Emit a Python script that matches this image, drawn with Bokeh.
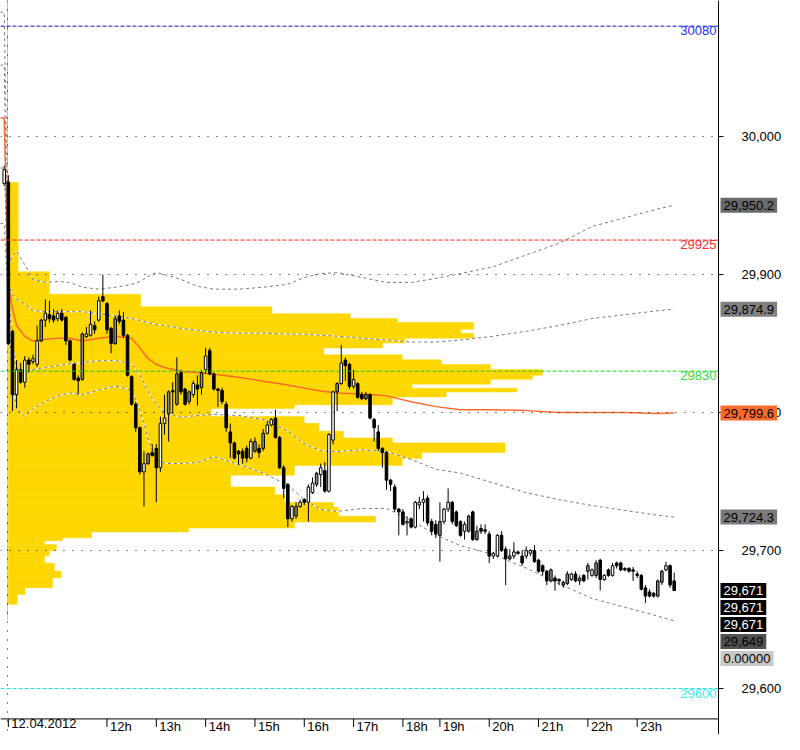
from bokeh.plotting import figure
from bokeh.models import Range1d, Span, Label, ColumnDataSource
from bokeh.core.properties import value
from bokeh.embed import file_html
from bokeh.resources import INLINE

# ---------------- data (5-minute bars, bar index 0 = session start 12.04.2012) ----------------
FIRST_BAR = -1
OPEN = [29966, 29967, 29859, 29813, 29831, 29822, 29838, 29837, 29835, 29852,
        29867, 29871, 29870, 29868, 29872, 29869, 29852, 29835, 29825, 29824,
        29855, 29856, 29863, 29867, 29884, 29879, 29861, 29850, 29870, 29867,
        29856, 29826, 29806, 29789, 29757, 29763, 29771, 29774, 29760, 29792,
        29799, 29816, 29806, 29829, 29817, 29808, 29813, 29820, 29818, 29831,
        29845, 29828, 29817, 29816, 29806, 29786, 29778, 29772, 29772, 29774,
        29767, 29772, 29774, 29774, 29785, 29791, 29796, 29782, 29760, 29748,
        29723, 29725, 29732, 29737, 29735, 29742, 29748, 29755, 29758, 29743,
        29780, 29815, 29821, 29838, 29835, 29819, 29821, 29813, 29810, 29813,
        29795, 29786, 29774, 29771, 29751, 29746, 29730, 29728, 29720, 29723,
        29717, 29733, 29735, 29738, 29721, 29719, 29711, 29721, 29730, 29735,
        29728, 29721, 29714, 29714, 29728, 29708, 29716, 29715, 29712, 29696,
        29696, 29711, 29701, 29694, 29696, 29699, 29696, 29696, 29698, 29700,
        29693, 29689, 29685, 29678, 29680, 29679, 29675, 29676, 29679, 29683,
        29678, 29682, 29685, 29682, 29682, 29693, 29679, 29686, 29682, 29691,
        29691, 29687, 29687, 29686, 29683, 29682, 29673, 29670, 29669, 29667,
        29677, 29686, 29689, 29678]
HIGH = [29979, 29972, 29860, 29838, 29836, 29841, 29840, 29842, 29863, 29868,
        29882, 29881, 29875, 29874, 29875, 29870, 29853, 29836, 29827, 29858,
        29862, 29874, 29866, 29884, 29900, 29880, 29862, 29870, 29874, 29873,
        29857, 29827, 29808, 29790, 29772, 29771, 29777, 29777, 29797, 29813,
        29816, 29822, 29840, 29831, 29818, 29816, 29823, 29827, 29831, 29847,
        29847, 29829, 29818, 29818, 29808, 29792, 29779, 29773, 29774, 29776,
        29781, 29782, 29777, 29788, 29794, 29796, 29802, 29783, 29762, 29749,
        29733, 29735, 29737, 29738, 29748, 29753, 29757, 29763, 29764, 29785,
        29816, 29822, 29849, 29840, 29836, 29831, 29822, 29815, 29815, 29814,
        29796, 29791, 29775, 29772, 29752, 29748, 29731, 29730, 29725, 29724,
        29736, 29739, 29743, 29740, 29723, 29722, 29735, 29731, 29745, 29736,
        29729, 29722, 29721, 29726, 29729, 29718, 29719, 29719, 29714, 29699,
        29712, 29714, 29703, 29701, 29706, 29700, 29700, 29703, 29701, 29704,
        29694, 29690, 29686, 29687, 29682, 29680, 29678, 29685, 29684, 29685,
        29682, 29683, 29691, 29687, 29693, 29694, 29683, 29687, 29691, 29692,
        29692, 29688, 29688, 29688, 29685, 29683, 29675, 29672, 29670, 29679,
        29686, 29692, 29690, 29684]
LOW = [29964, 29849, 29801, 29803, 29821, 29818, 29829, 29835, 29833, 29851,
       29862, 29865, 29865, 29866, 29866, 29849, 29837, 29823, 29813, 29823,
       29854, 29855, 29857, 29866, 29880, 29857, 29843, 29849, 29864, 29854,
       29826, 29805, 29786, 29755, 29732, 29762, 29768, 29735, 29757, 29784,
       29779, 29799, 29805, 29813, 29805, 29806, 29811, 29805, 29813, 29828,
       29827, 29816, 29804, 29806, 29786, 29767, 29766, 29762, 29763, 29764,
       29766, 29771, 29767, 29772, 29784, 29790, 29781, 29759, 29738, 29717,
       29721, 29723, 29731, 29733, 29721, 29741, 29746, 29746, 29742, 29742,
       29777, 29801, 29820, 29823, 29817, 29817, 29810, 29809, 29809, 29795,
       29779, 29772, 29760, 29744, 29743, 29728, 29711, 29718, 29711, 29716,
       29716, 29730, 29721, 29718, 29711, 29709, 29692, 29719, 29728, 29719,
       29717, 29710, 29708, 29713, 29707, 29707, 29712, 29712, 29691, 29694,
       29695, 29699, 29675, 29693, 29694, 29697, 29689, 29694, 29696, 29691,
       29684, 29682, 29675, 29677, 29671, 29675, 29673, 29675, 29678, 29677,
       29675, 29677, 29679, 29681, 29680, 29671, 29678, 29681, 29681, 29687,
       29685, 29685, 29684, 29678, 29680, 29671, 29662, 29666, 29666, 29666,
       29675, 29685, 29673, 29671]
CLOSE = [29976, 29850, 29813, 29831, 29822, 29838, 29835, 29839, 29852, 29867,
         29872, 29868, 29867, 29872, 29867, 29852, 29838, 29824, 29823, 29857,
         29857, 29864, 29860, 29881, 29881, 29860, 29850, 29868, 29866, 29856,
         29827, 29806, 29789, 29757, 29763, 29770, 29769, 29760, 29792, 29796,
         29815, 29815, 29828, 29815, 29806, 29815, 29821, 29817, 29829, 29841,
         29828, 29817, 29816, 29808, 29789, 29778, 29767, 29770, 29767, 29767,
         29779, 29779, 29771, 29785, 29791, 29795, 29782, 29760, 29745, 29723,
         29732, 29732, 29735, 29735, 29746, 29749, 29756, 29760, 29743, 29784,
         29815, 29821, 29836, 29834, 29819, 29824, 29811, 29810, 29813, 29796,
         29789, 29774, 29771, 29751, 29748, 29730, 29728, 29719, 29721, 29717,
         29735, 29735, 29737, 29720, 29714, 29712, 29721, 29730, 29735, 29721,
         29718, 29711, 29719, 29725, 29708, 29714, 29714, 29714, 29696, 29698,
         29711, 29700, 29694, 29696, 29699, 29698, 29691, 29700, 29700, 29692,
         29685, 29685, 29678, 29686, 29678, 29678, 29677, 29683, 29683, 29678,
         29680, 29678, 29689, 29686, 29691, 29679, 29682, 29682, 29689, 29689,
         29686, 29686, 29685, 29685, 29682, 29672, 29667, 29667, 29667, 29678,
         29685, 29689, 29675, 29671]
# candle type: w = up (hollow), b = down, g = up (grey)
KIND = list("wbbwbwbwwg" "wbbwbbbbbg" "wwbwbbbgbb" "bbbbwgbbww" "gbgbbgwbgw"
            "bbbbbbbbbb" "wgbgwwbbbb" "wgwbwwgwbw" "wgwbbwbbgb" "bbbbbbbbwb"
            "wwwbbbgwwb" "bbwgbgbbbw" "wbbgwbbwwb" "bbbgbbggwb" "gbgwgbwbwb"
            "bbbbbbbbbg" "gwbb")

TICK_BARS = [0, 24, 36, 48, 60, 72, 84, 96, 105, 117, 129, 141, 153]
TICK_LABELS = ["12.04.2012", "12h", "13h", "14h", "15h", "16h", "17h", "18h",
               "19h", "20h", "21h", "22h", "23h"]

# VWAP and its deviation bands, read at these bar indexes
BAND_BARS = [-2, -1, 0, 1, 2, 4, 6, 9, 12, 15, 18, 22, 26, 30, 32, 34, 36, 38, 42, 46,
             50, 56, 62, 68, 72, 76, 80, 86, 92, 98, 104, 110, 118, 126, 134, 142, 150,
             158, 162]
VWAP = [30013.5, 30013.5, 29892.9, 29875.2, 29863.1, 29855.3, 29851.8, 29853.2, 29853.9,
        29853.9, 29851.8, 29853.9, 29855.3, 29853.9, 29846.8, 29839.0, 29834.8, 29832.6,
        29829.8, 29829.1, 29827.7, 29825.5, 29822.7, 29819.9, 29817.7, 29815.6, 29814.2,
        29813.5, 29812.1, 29807.8, 29804.3, 29802.1, 29802.1, 29801.4, 29800.0, 29800.0,
        29800.0, 29799.3, 29799.6]
UPPER2 = [30090.1, 30090.1, 29908.5, 29912.8, 29917.0, 29907.1, 29896.5, 29894.3, 29895.0,
          29894.3, 29890.8, 29889.4, 29890.8, 29892.9, 29895.0, 29898.6, 29901.4, 29900.0,
          29896.5, 29891.5, 29889.4, 29889.4, 29890.8, 29892.9, 29897.9, 29900.7, 29901.4,
          29897.9, 29894.3, 29894.3, 29897.2, 29900.7, 29905.7, 29914.2, 29922.7, 29934.8,
          29941.2, 29947.5, 29950.2]
UPPER1 = [30051.8, 30051.8, 29892.9, 29885.8, 29882.3, 29878.7, 29873.8, 29873.1, 29873.1,
          29873.1, 29873.1, 29871.6, 29870.2, 29868.1, 29866.7, 29865.3, 29863.8, 29863.1,
          29861.0, 29859.6, 29858.2, 29857.5, 29857.5, 29856.8, 29856.8, 29856.1, 29855.3,
          29853.9, 29852.5, 29851.1, 29851.1, 29852.5, 29855.3, 29858.9, 29863.1, 29868.1,
          29870.9, 29873.8, 29874.9]
LOWER1 = [29977.2, 29977.2, 29885.8, 29850.4, 29832.6, 29829.1, 29831.2, 29832.6, 29834.1,
          29835.5, 29836.2, 29837.6, 29837.6, 29835.5, 29827.0, 29814.9, 29805.7, 29800.0,
          29796.5, 29797.9, 29798.6, 29797.9, 29795.0, 29786.5, 29777.3, 29772.4, 29771.7,
          29773.1, 29771.7, 29766.0, 29758.9, 29756.1, 29749.0, 29741.9, 29736.9, 29732.6,
          29729.1, 29725.6, 29724.3]
LOWER2 = [29936.9, 29936.9, 29878.7, 29822.0, 29802.9, 29797.2, 29802.9, 29807.8, 29812.1,
          29814.2, 29812.8, 29816.3, 29819.2, 29816.3, 29802.1, 29780.9, 29766.7, 29763.1,
          29763.1, 29763.8, 29768.1, 29762.4, 29756.1, 29747.5, 29736.9, 29729.8, 29728.4,
          29730.5, 29730.5, 29722.0, 29711.4, 29703.6, 29697.2, 29687.3, 29675.9, 29665.3,
          29658.9, 29652.5, 29649.0]

# volume profile: price bin edges (descending) and relative volume per bin
PROFILE_EDGES = [29966.7, 29902.1, 29885.8, 29876.6, 29871.6, 29868.1, 29865.3, 29860.3,
                 29857.5, 29853.9, 29850.4, 29846.8, 29841.9, 29838.3, 29834.8, 29831.2,
                 29827.0, 29824.1, 29820.6, 29817.7, 29814.9, 29811.3, 29805.7, 29802.9,
                 29797.2, 29792.2, 29786.5, 29781.6, 29778.0, 29771.0, 29766.7, 29761.7,
                 29754.6, 29746.1, 29740.5, 29734.8, 29731.2, 29724.9, 29720.6, 29716.3,
                 29713.5, 29709.2, 29707.1, 29704.3, 29700.0, 29696.5, 29690.8, 29685.1,
                 29680.2, 29673.1, 29668.1, 29661.0]
PROFILE_VOLUME = [10, 42, 135, 269, 349, 397, 475, 462, 475, 405, 382, 322, 402, 442, 492,
                  545, 535, 492, 412, 519, 447, 392, 292, 207, 302, 317, 342, 392, 507, 422,
                  402, 292, 227, 272, 282, 332, 337, 375, 292, 184, 85, 55, 37, 49, 42, 37,
                  47, 54, 45, 17, 9]

GRID_LEVELS = [30000, 29900, 29800, 29700]
AXIS_TICKS = [29600, 29700, 29800, 29900, 30000]
LEVELS = [30080, 29925, 29830, 29600]
SEPARATOR_GREY_END = 29650

BOX_VALUES = [29950.2, 29874.9, 29799.6, 29724.3, 29671, 29671, 29671, 29649, 0.0]
BOX_FORMATS = ["{:,.1f}"] * 4 + ["{:,.0f}"] * 4 + ["{:.5f}"]

# ---------------- styles / layout ----------------
W, H = 784, 734
PLOT_W = 718                      # width of the price area; the rest is the price scale
XMIN, XMAX = -1.907, 172.78       # bar range of the price area
BPP = (XMAX - XMIN) / PLOT_W      # bars per pixel
XRIGHT = XMIN + W * BPP
YTOP, YBOT = 30098.6, 29566.7
AXIS_Y = 29578.0                  # top of the time-axis strip
PX = (YTOP - YBOT) / H            # price per pixel
SEP = -0.2                        # session separator position
PROFILE_LEFT = 0.0
PROFILE_MAX_BARS = 129.9
GOLD = "#FFD700"
FONT = "Liberation Sans"
LEVEL_LINE_COLORS = ["#1010e8", "#ff2020", "#22cc22", "#22dddd"]
LEVEL_TEXT_COLORS = ["#2a2aff", "#ff2a2a", "#33dd33", "#33f0f0"]
BOX_BG = ["#6a6a6a", "#808080", "#ff6a2a", "#7a7a7a", "#000000", "#000000", "#000000",
          "#505050", "#c8c8c8"]
BOX_FG = ["black", "black", "black", "black", "white", "white", "white", "black", "black"]
FILL = {"w": "white", "b": "black", "g": "#8a8a8a"}

p = figure(width=W, height=H, x_range=Range1d(XMIN, XRIGHT), y_range=Range1d(YBOT, YTOP),
           x_axis_location=None, y_axis_location=None, output_backend="svg",
           toolbar_location=None, min_border_left=0, min_border_right=0,
           min_border_top=0, min_border_bottom=0)
p.grid.visible = False
p.outline_line_color = None
p.background_fill_color = "white"
p.border_fill_color = "white"

# volume profile
vmax = max(PROFILE_VOLUME)
p.quad(left=PROFILE_LEFT,
       right=[PROFILE_LEFT + v / vmax * PROFILE_MAX_BARS for v in PROFILE_VOLUME],
       top=PROFILE_EDGES[:-1], bottom=PROFILE_EDGES[1:],
       fill_color=GOLD, line_color=GOLD, line_width=0.5)

# separator (grey part)
p.segment(x0=[SEP], y0=[YTOP], x1=[SEP], y1=[SEPARATOR_GREY_END],
          line_color="#c4c4c4", line_width=1)

# bands
for band in (UPPER2, UPPER1, LOWER1, LOWER2):
    p.line(BAND_BARS, band, line_color="white", line_width=1)
    p.line(BAND_BARS, band, line_color="#7a7a7a", line_width=1, line_dash="3 3")
p.line(BAND_BARS, VWAP, line_color="#ff6a2a", line_width=1.5)

# candles
bars = list(range(FIRST_BAR, FIRST_BAR + len(CLOSE)))
src = ColumnDataSource(dict(
    x=bars, high=HIGH, low=LOW,
    top=[max(o, c) for o, c in zip(OPEN, CLOSE)],
    bottom=[min(o, c) for o, c in zip(OPEN, CLOSE)],
    fill=[FILL[k] for k in KIND]))
p.segment(x0="x", y0="low", x1="x", y1="high", source=src, line_color="black", line_width=1)
p.vbar(x="x", width=0.62, top="top", bottom="bottom", source=src,
       fill_color="fill", line_color="black", line_width=1)

# grid / level lines (limited to the price area)
n = len(GRID_LEVELS)
p.segment(x0=[XMIN] * n, x1=[XMAX] * n, y0=GRID_LEVELS, y1=GRID_LEVELS,
          line_color="black", line_width=1, line_dash="1 8")
for lvl, lc in zip(LEVELS, LEVEL_LINE_COLORS):
    p.segment(x0=[XMIN], x1=[XMAX], y0=[lvl], y1=[lvl],
              line_color=lc, line_width=1, line_dash="4 2")
p.add_layout(Span(location=SEP, dimension="height", line_color="black",
                  line_width=1, line_dash="1 8"))

# time axis (bottom strip)
p.segment(x0=[XMIN], x1=[XMAX], y0=[AXIS_Y], y1=[AXIS_Y], line_color="black", line_width=1)
nt = len(TICK_BARS)
p.segment(x0=TICK_BARS, y0=[AXIS_Y] * nt, x1=TICK_BARS, y1=[AXIS_Y - 8 * PX] * nt,
          line_color="black", line_width=1)
p.text(x=TICK_BARS, y=[AXIS_Y] * nt, text=TICK_LABELS, x_offset=3,
       text_baseline="top", text_align="left", text_font=value(FONT),
       text_font_size="13px", text_color="black")

# price scale (right strip)
p.add_layout(Span(location=XMAX, dimension="height", line_color="black", line_width=1))
na = len(AXIS_TICKS)
p.segment(x0=[XMAX] * na, x1=[XMAX + 5 * BPP] * na, y0=AXIS_TICKS, y1=AXIS_TICKS,
          line_color="black", line_width=1)
p.text(x=[XMAX] * na, y=AXIS_TICKS, text=["{:,.0f}".format(t) for t in AXIS_TICKS],
       x_offset=23, text_baseline="middle", text_align="left", text_font=value(FONT),
       text_font_size="13px", text_color="black")

for lvl, tc in zip(LEVELS, LEVEL_TEXT_COLORS):
    p.add_layout(Label(x=XMAX, y=lvl, x_offset=-2, text=str(lvl), text_align="right",
                       text_baseline="top", text_font=FONT, text_font_size="13px",
                       text_color=tc))

# right-hand value boxes (stacked so they do not overlap)
STEP = 17.0
prev = None
for val, fmt, bg, fg in zip(BOX_VALUES, BOX_FORMATS, BOX_BG, BOX_FG):
    want = (YTOP - val) / PX if YBOT < val < YTOP else None
    if want is None:
        ypx = prev + STEP
    elif prev is not None and want < prev + STEP:
        ypx = prev + STEP
    else:
        ypx = want
    prev = ypx
    p.add_layout(Label(x=XMAX, y=YTOP - ypx * PX, x_offset=2, text=fmt.format(val),
                       text_align="left", text_baseline="middle", text_font=FONT,
                       text_font_size="13px", text_color=fg,
                       background_fill_color=bg, padding=3))

open("out.html", "w").write(file_html(p, INLINE))
